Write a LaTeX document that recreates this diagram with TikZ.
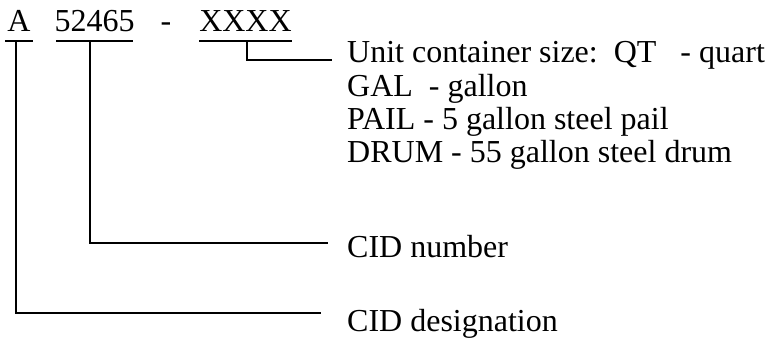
\documentclass[tikz,border=0pt]{standalone}
\usepackage{fontspec}
\setmainfont{Liberation Serif}
\begin{document}
\begin{tikzpicture}[x=1pt,y=-1pt,
  lbl/.style={anchor=base west,inner sep=0pt,font=\fontsize{32}{32}\selectfont},
  code/.style={anchor=base,inner sep=0pt,font=\fontsize{32}{32}\selectfont},
  ln/.style={line width=1.4pt},
  ul/.style={line width=1.6pt}]
\useasboundingbox (0,0) rectangle (768,339);
% top code
\node[code] (a) at (19,32) {A};
\node[code] (num) at (94.5,32) {52465};
\node[code] (dash) at (166,32) {-};
\node[code] (xx) at (245.5,32) {XXXX};
\coordinate (aL) at (5,41); \coordinate (aR) at (33,41);
\coordinate (nL) at (56,41); \coordinate (nR) at (133,41);
\coordinate (xL) at (199,41); \coordinate (xR) at (292,41);
\draw[ul] (aL) -- (aR);
\draw[ul] (nL) -- (nR);
\draw[ul] (xL) -- (xR);
% labels
\node[lbl] (unit) at (347,63) {Unit container size:\ \ QT\ \ \ - quart};
\node[lbl] (gal) at (347,97) {GAL\ \ - gallon};
\node[lbl] (pail) at (347,130) {PAIL - 5 gallon steel pail};
\node[lbl] (drum) at (347,163) {DRUM - 55 gallon steel drum};
\node[lbl] (cidn) at (347,257) {CID number};
\node[lbl] (cidd) at (347,331) {CID designation};
% connectors
\coordinate (xd) at (247,41);
\coordinate (xe) at (332,60);
\draw[ln] (xd) |- (xe);
\coordinate (nd) at (90,41);
\coordinate (ne) at (328,243);
\draw[ln] (nd) |- (ne);
\coordinate (ad) at (16,41);
\coordinate (ae) at (321,313);
\draw[ln] (ad) |- (ae);
\end{tikzpicture}
\end{document}
